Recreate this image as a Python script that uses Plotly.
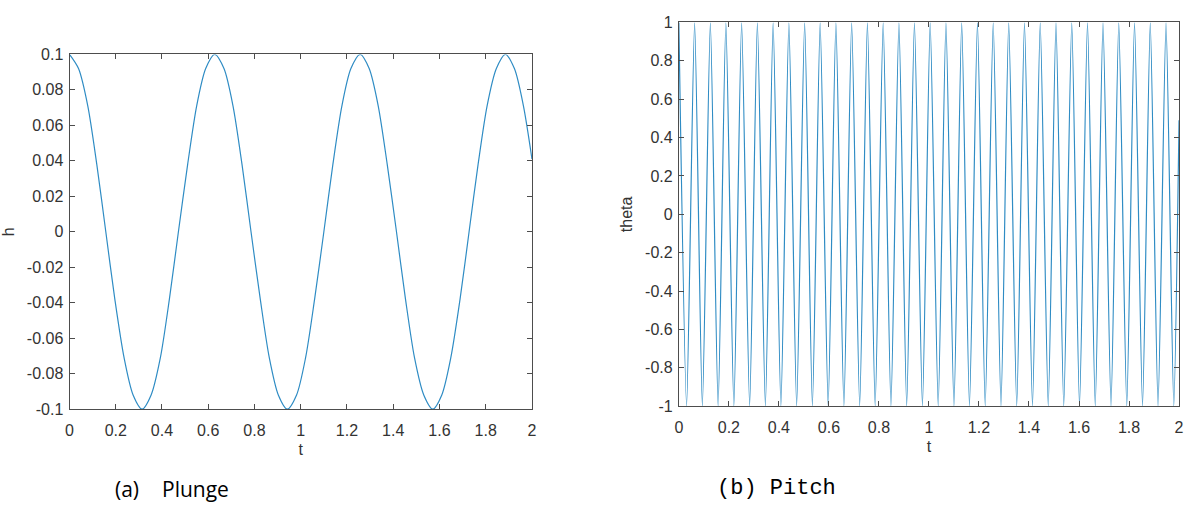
import plotly.graph_objects as go

# ---- Plunge data (h vs t) ----
plunge_t = [0.0, 0.039, 0.079, 0.118, 0.157, 0.196, 0.236, 0.275, 0.314, 0.353, 0.393,
            0.432, 0.471, 0.511, 0.550, 0.589, 0.628, 0.668, 0.707, 0.746, 0.785,
            0.825, 0.864, 0.903, 0.942, 0.982, 1.021, 1.060, 1.100, 1.139, 1.178,
            1.217, 1.257, 1.296, 1.335, 1.374, 1.414, 1.453, 1.492, 1.532, 1.571,
            1.610, 1.649, 1.689, 1.728, 1.767, 1.806, 1.846, 1.885, 1.924, 1.963, 2.0]
plunge_h = [0.1, 0.092, 0.071, 0.038, 0.0, -0.038, -0.071, -0.092, -0.1, -0.092, -0.071,
            -0.038, 0.0, 0.038, 0.071, 0.092, 0.1, 0.092, 0.071, 0.038, 0.0,
            -0.038, -0.071, -0.092, -0.1, -0.092, -0.071, -0.038, 0.0, 0.038, 0.071,
            0.092, 0.1, 0.092, 0.071, 0.038, 0.0, -0.038, -0.071, -0.092, -0.1,
            -0.092, -0.071, -0.038, 0.0, 0.038, 0.071, 0.092, 0.1, 0.092, 0.071, 0.041]

# ---- Pitch data (peaks/troughs of theta vs t) ----
pitch_t = [0.0, 0.031, 0.063, 0.094, 0.126, 0.157, 0.188, 0.220, 0.251, 0.283,
           0.314, 0.346, 0.377, 0.408, 0.440, 0.471, 0.503, 0.534, 0.565, 0.597,
           0.628, 0.660, 0.691, 0.723, 0.754, 0.785, 0.817, 0.848, 0.880, 0.911,
           0.942, 0.974, 1.005, 1.037, 1.068, 1.100, 1.131, 1.162, 1.194, 1.225,
           1.257, 1.288, 1.319, 1.351, 1.382, 1.414, 1.445, 1.477, 1.508, 1.539,
           1.571, 1.602, 1.634, 1.665, 1.696, 1.728, 1.759, 1.791, 1.822, 1.854,
           1.885, 1.916, 1.948, 1.979, 2.0]
pitch_theta = [1, -1, 1, -1, 1, -1, 1, -1, 1, -1,
               1, -1, 1, -1, 1, -1, 1, -1, 1, -1,
               1, -1, 1, -1, 1, -1, 1, -1, 1, -1,
               1, -1, 1, -1, 1, -1, 1, -1, 1, -1,
               1, -1, 1, -1, 1, -1, 1, -1, 1, -1,
               1, -1, 1, -1, 1, -1, 1, -1, 1, -1,
               1, -1, 1, -1, 0.49]

# ---- Tick labels ----
x_ticks = [0, 0.2, 0.4, 0.6, 0.8, 1, 1.2, 1.4, 1.6, 1.8, 2]
x_ticktext = ["0", "0.2", "0.4", "0.6", "0.8", "1", "1.2", "1.4", "1.6", "1.8", "2"]
h_ticks = [0.1, 0.08, 0.06, 0.04, 0.02, 0, -0.02, -0.04, -0.06, -0.08, -0.1]
h_ticktext = ["0.1", "0.08", "0.06", "0.04", "0.02", "0", "-0.02", "-0.04", "-0.06", "-0.08", "-0.1"]
th_ticks = [1, 0.8, 0.6, 0.4, 0.2, 0, -0.2, -0.4, -0.6, -0.8, -1]
th_ticktext = ["1", "0.8", "0.6", "0.4", "0.2", "0", "-0.2", "-0.4", "-0.6", "-0.8", "-1"]

W, H = 1189, 509
LINE = "#2f8cc4"
AX = "#4d4d4d"
TXT = "#333333"
FONT = "Liberation Sans, Arial, sans-serif"

fig = go.Figure()
fig.add_trace(go.Scatter(x=plunge_t, y=plunge_h, mode="lines",
                         line=dict(color=LINE, width=1.2, shape="spline", smoothing=0.8),
                         xaxis="x", yaxis="y", showlegend=False))
fig.add_trace(go.Scatter(x=pitch_t, y=pitch_theta, mode="lines",
                         line=dict(color=LINE, width=1.2, shape="spline", smoothing=0.6),
                         xaxis="x2", yaxis="y2", showlegend=False))

common = dict(showline=True, linecolor=AX, linewidth=1, mirror="ticks", ticks="inside", ticklen=5,
              tickcolor=AX, showgrid=False, zeroline=False, tickfont=dict(family=FONT, size=16, color=TXT))
xcommon = dict(common, ticklabelstandoff=7)
ycommon = dict(common, ticklabelstandoff=2)

fig.update_layout(
    width=W, height=H, margin=dict(l=0, r=0, t=0, b=0),
    paper_bgcolor="white", plot_bgcolor="white",
    xaxis=dict(domain=[66 / W, 532 / W], anchor="y", range=[0, 2], tickvals=x_ticks, ticktext=x_ticktext,
               title=dict(text="t", font=dict(family=FONT, size=16, color=TXT), standoff=5), **xcommon),
    yaxis=dict(domain=[1 - 415 / H, 1 - 48 / H], anchor="x", range=[-0.1, 0.1], tickvals=h_ticks, ticktext=h_ticktext,
               title=dict(text="h", font=dict(family=FONT, size=16, color=TXT), standoff=8), **ycommon),
    xaxis2=dict(domain=[680 / W, 1184 / W], anchor="y2", range=[0, 2], tickvals=x_ticks, ticktext=x_ticktext,
                title=dict(text="t", font=dict(family=FONT, size=16, color=TXT), standoff=5), **xcommon),
    yaxis2=dict(domain=[1 - 412 / H, 1 - 15 / H], anchor="x2", range=[-1, 1], tickvals=th_ticks, ticktext=th_ticktext,
                title=dict(text="theta", font=dict(family=FONT, size=16, color=TXT), standoff=8), **ycommon),
    annotations=[
        dict(text="(a)", x=110 / W, y=1 - 498 / H, xref="paper", yref="paper",
             xanchor="left", yanchor="middle", showarrow=False,
             font=dict(family="Open Sans, Lato, sans-serif", size=21, color="#000000")),
        dict(text="Plunge", x=157 / W, y=1 - 498 / H, xref="paper", yref="paper",
             xanchor="left", yanchor="middle", showarrow=False,
             font=dict(family="Open Sans, Lato, sans-serif", size=21, color="#000000")),
        dict(text="(b) Pitch", x=716 / W, y=1 - 497 / H, xref="paper", yref="paper",
             xanchor="left", yanchor="middle", showarrow=False,
             font=dict(family="Liberation Mono, Courier New, monospace", size=22, color="#000000")),
    ],
)

fig.write_html("out.html")
